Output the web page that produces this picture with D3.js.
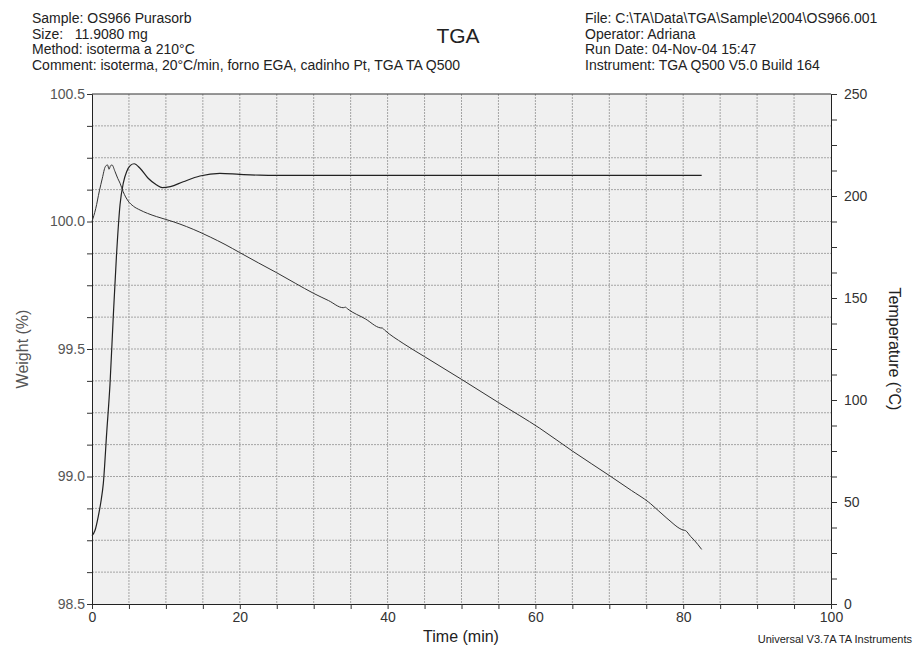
<!DOCTYPE html>
<html>
<head>
<meta charset="utf-8">
<script src="https://cdn.jsdelivr.net/npm/d3@7"></script>
<style>
  body { margin: 0; background: #fff; }
  svg { display: block; font-family: "Liberation Sans", Arial, sans-serif; }
</style>
</head>
<body>
<script>
let w = 913;
let h = 648;

// header texts
const headerLeft = [
  "Sample: OS966 Purasorb",
  "Size:   11.9080 mg",
  "Method: isoterma a 210°C",
  "Comment: isoterma, 20°C/min, forno EGA, cadinho Pt, TGA TA Q500",
];
const headerRight = [
  "File: C:\\TA\\Data\\TGA\\Sample\\2004\\OS966.001",
  "Operator: Adriana",
  "Run Date: 04-Nov-04 15:47",
  "Instrument: TGA Q500 V5.0 Build 164",
];

// weight curve (time in min, weight in %)
const weightTime = [0, 0.5, 1.0, 1.4, 1.8, 2.1, 2.3, 2.5, 2.7, 3.1, 3.5, 3.8, 4.2, 4.9, 5.6, 6.5, 7.5, 8.75, 10, 11,
  12.8, 14.6, 16, 18, 20, 22.5, 25, 27.5, 30, 32, 34, 34.3, 34.6, 37, 39, 39.3, 39.6, 42.1, 45, 50, 55,
  60.6, 65, 70.1, 73, 75.3, 75.6, 77.8, 80, 80.3, 81, 81.5, 82.5];
const weightPct = [100.0, 100.05, 100.12, 100.17, 100.215, 100.222, 100.205, 100.218, 100.222, 100.197, 100.168,
  100.15, 100.118, 100.08, 100.06, 100.045, 100.032, 100.019, 100.008, 99.999,
  99.98, 99.958, 99.939, 99.91, 99.878, 99.838, 99.799, 99.758, 99.718, 99.69, 99.662, 99.664, 99.657,
  99.618, 99.583, 99.582, 99.574, 99.522, 99.47, 99.381, 99.29,
  99.189, 99.1, 99.002, 98.945, 98.9, 98.893, 98.836, 98.79, 98.788, 98.765, 98.75, 98.714];

// temperature curve (time in min, temperature in °C)
const tempTime = [0, 0.4, 0.85, 1.2, 1.53, 1.99, 2.44, 2.88, 3.3, 3.79, 4.24, 4.7, 5.2, 5.7, 6.5, 7.6, 8.75, 9.5,
  10.6, 12.35, 14.6, 17.3, 20, 22.7, 25, 82.5];
const tempC = [33.5, 36, 43, 50, 59, 84, 108, 141, 170, 195.6, 206.4, 212, 215, 215.8, 213.6, 208.7, 205.4, 204.1,
  204.6, 207, 209.8, 211.1, 210.6, 210.2, 210.1, 210.1];

// ticks
const timeTicks = [0, 20, 40, 60, 80, 100];
const weightTicks = [98.5, 99.0, 99.5, 100.0, 100.5];
const tempTicks = [0, 50, 100, 150, 200, 250];

const x = d3.scaleLinear().domain([0, 100]).range([92, 831]);
const yW = d3.scaleLinear().domain([98.5, 100.5]).range([604, 94]);
const yT = d3.scaleLinear().domain([0, 250]).range([604, 94]);

let svg = d3.select("body").append("svg").attr("width", w).attr("height", h);

// plot background
svg.append("rect")
  .attr("x", x(0)).attr("y", yW(100.5))
  .attr("width", x(100) - x(0)).attr("height", yW(98.5) - yW(100.5))
  .attr("fill", "#f0f0f0");

// grid
const minorTime = d3.range(5, 100, 5);
const minorWeight = d3.range(98.625, 100.5, 0.125);
svg.append("g").selectAll("line").data(minorTime).enter().append("line")
  .attr("x1", d => x(d)).attr("x2", d => x(d))
  .attr("y1", yW(100.5)).attr("y2", yW(98.5))
  .attr("stroke", "#a4a4a4").attr("stroke-width", 1).attr("stroke-dasharray", "2,1");
svg.append("g").selectAll("line").data(minorWeight).enter().append("line")
  .attr("x1", x(0)).attr("x2", x(100))
  .attr("y1", d => yW(d)).attr("y2", d => yW(d))
  .attr("stroke", "#a4a4a4").attr("stroke-width", 1).attr("stroke-dasharray", "2,1");

// axes
function styleAxis(g) {
  g.selectAll("path").attr("stroke", "#222");
  g.selectAll("line").attr("stroke", "#333");
  g.selectAll("text").attr("font-size", "14px").attr("fill", "#333")
    .attr("font-family", "'Liberation Sans', Arial, sans-serif");
}

svg.append("g").attr("transform", "translate(0,604)")
  .call(d3.axisBottom(x).tickValues(d3.range(0, 101, 5)).tickSize(5).tickPadding(3)
    .tickFormat(d => timeTicks.includes(d) ? d : ""))
  .call(styleAxis);

svg.append("g").attr("transform", "translate(92,0)")
  .call(d3.axisLeft(yW).tickValues(d3.range(98.5, 100.51, 0.125)).tickSize(5).tickPadding(2)
    .tickFormat(d => weightTicks.some(v => Math.abs(v - d) < 1e-6) ? d3.format(".1f")(d) : ""))
  .call(styleAxis)
  .selectAll("text").attr("fill", "#555");

svg.append("g").attr("transform", "translate(831,0)")
  .call(d3.axisRight(yT).tickValues(d3.range(0, 251, 12.5)).tickSize(6).tickPadding(7)
    .tickFormat(d => tempTicks.includes(d) ? d : ""))
  .call(styleAxis);

// top frame
svg.append("line")
  .attr("x1", x(0)).attr("x2", x(100)).attr("y1", yW(100.5)).attr("y2", yW(100.5))
  .attr("stroke", "#333").attr("stroke-width", 1.2);

// curves
const lineW = d3.line().x((d, i) => x(weightTime[i])).y(d => yW(d)).curve(d3.curveMonotoneX);
const lineT = d3.line().x((d, i) => x(tempTime[i])).y(d => yT(d)).curve(d3.curveMonotoneX);

svg.append("path").attr("d", lineW(weightPct))
  .attr("fill", "none").attr("stroke", "#333").attr("stroke-width", 1);
svg.append("path").attr("d", lineT(tempC))
  .attr("fill", "none").attr("stroke", "#222").attr("stroke-width", 1.2);

// axis titles
svg.append("text").text("Time (min)")
  .attr("x", 461).attr("y", 642).attr("text-anchor", "middle")
  .attr("font-size", "16px").attr("fill", "#222");
svg.append("text").text("Weight (%)")
  .attr("transform", "translate(28,349) rotate(-90)").attr("text-anchor", "middle")
  .attr("font-size", "16px").attr("fill", "#555");
svg.append("text").text("Temperature (°C)")
  .attr("transform", "translate(889,349) rotate(90)").attr("text-anchor", "middle")
  .attr("font-size", "16px").attr("fill", "#222");

// header
svg.append("g").selectAll("text").data(headerLeft).enter().append("text")
  .text(d => d).attr("x", 32).attr("y", (d, i) => 23 + i * 15.5)
  .attr("font-size", "14px").attr("fill", "#222").attr("xml:space", "preserve");
svg.append("g").selectAll("text").data(headerRight).enter().append("text")
  .text(d => d).attr("x", 585).attr("y", (d, i) => 23 + i * 15.5)
  .attr("font-size", "14px").attr("fill", "#222");
svg.append("text").text("TGA")
  .attr("x", 458).attr("y", 43).attr("text-anchor", "middle")
  .attr("font-size", "21px").attr("fill", "#222");

svg.append("text").text("Universal V3.7A TA Instruments")
  .attr("x", 912).attr("y", 643).attr("text-anchor", "end")
  .attr("font-size", "11px").attr("fill", "#222");
</script>
</body>
</html>
